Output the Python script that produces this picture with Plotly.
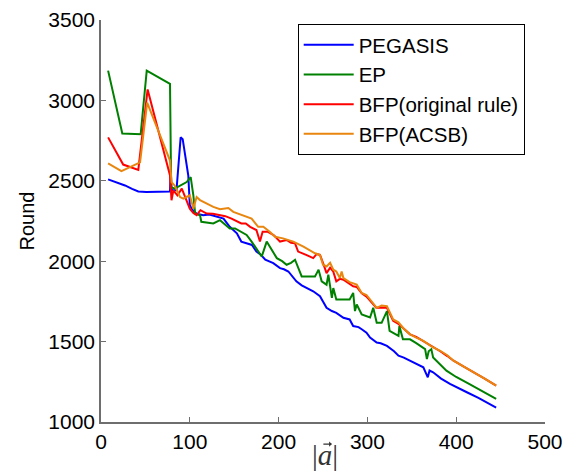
import plotly.graph_objects as go

# PEGASIS (blue)
peg_x = [8, 15, 27, 35, 42, 51, 60, 70, 77.7, 78.5, 79.5, 85, 89.7, 92, 98.3, 100, 104, 107.7, 115, 122, 130, 138,
         145, 153, 158, 165, 170, 175, 180, 185, 190, 194, 201.6, 206, 211, 216, 220, 226, 231.6, 239, 246.6, 254,
         260, 265, 273, 280, 284, 290, 293.6, 299, 303, 310.5, 315, 322, 330, 335, 341, 348, 355, 363, 368, 370,
         374, 383, 393, 402, 412, 425, 435, 445]
peg_y = [2509, 2495, 2471, 2450, 2434, 2430, 2430, 2432, 2434, 2574, 2441, 2441, 2770, 2759, 2533, 2348, 2310, 2296,
         2286, 2290, 2276, 2265, 2214, 2173, 2122, 2110, 2101, 2060, 2040, 2009, 1995, 1988, 1957, 1950, 1936, 1900,
         1875, 1850, 1833, 1813, 1782, 1710, 1690, 1679, 1648, 1638, 1597, 1590, 1577, 1556, 1525, 1494, 1490, 1473,
         1440, 1412, 1400, 1381, 1360, 1340, 1278, 1320, 1309, 1270, 1237, 1210, 1185, 1150, 1120, 1090]

# EP (green)
ep_x = [8, 24, 44.7, 51.5, 77.7, 79, 83, 90, 96.5, 101, 104, 106, 111.5, 113, 120, 126.5, 134, 140, 145, 151, 158,
        164, 169.6, 175, 181, 186.6, 190, 198, 204, 209, 214, 218.5, 226, 233, 241, 243, 245, 248.5, 254, 256, 260,
        261.6, 265, 272, 280, 284, 286, 288, 293.6, 303, 306.6, 310.5, 316, 322, 325, 335, 336, 340, 348, 355, 365,
        367, 369, 372, 374, 389, 400, 415, 430, 445]
ep_y = [3185, 2794, 2790, 3185, 3103, 2461, 2451, 2470, 2492, 2523, 2410, 2296, 2286, 2245, 2240, 2235, 2255, 2230,
        2204, 2204, 2180, 2163, 2122, 2080, 2029, 2122, 2091, 2019, 2000, 1978, 1990, 2009, 1905, 1905, 1905, 1926,
        1947, 1875, 1854, 1916, 1772, 1833, 1762, 1762, 1762, 1803, 1690, 1731, 1669, 1650, 1710, 1617, 1617, 1690,
        1566, 1535, 1597, 1514, 1514, 1490, 1453, 1391, 1440, 1453, 1401, 1319, 1280, 1235, 1190, 1144]

# BFP(original rule) (red)
bo_x = [8, 25, 42, 52.5, 77.7, 79.4, 81.5, 86, 91, 100, 104, 107.7, 112, 119, 126, 134, 140, 147, 152, 158, 163,
        168, 175, 179, 182, 188, 195, 201.6, 209, 214, 218.5, 222, 231, 239, 243, 246.6, 250, 254, 258, 261.6, 265,
        269, 273, 280, 284, 288, 293.6, 299, 303, 310, 316, 322, 329, 335, 341, 348, 355, 363, 370, 375, 382, 390,
        397, 410, 420, 432, 445]
bo_y = [2770, 2601, 2568, 3068, 2533, 2379, 2441, 2410, 2451, 2327, 2300, 2286, 2317, 2296, 2295, 2286, 2280, 2265,
        2250, 2235, 2235, 2214, 2194, 2122, 2183, 2183, 2160, 2122, 2132, 2115, 2111, 2060, 2039, 2019, 2045, 2039,
        1990, 1926, 1960, 1935, 1875, 1890, 1885, 1860, 1844, 1840, 1800, 1780, 1755, 1710, 1712, 1710, 1630, 1610,
        1580, 1545, 1530, 1504, 1480, 1460, 1440, 1410, 1381, 1340, 1310, 1270, 1226]

# BFP(ACSB) (orange)
ba_x = [8, 23, 44, 52, 77.7, 79.4, 83, 89, 92.7, 100, 104, 107.7, 111.5, 118, 126.5, 134, 143.4, 149, 158.4, 164,
        169.6, 177, 182.8, 190, 196, 205, 216.6, 228, 241, 246.6, 250, 254, 258, 261.6, 265, 269, 271, 273, 280, 288,
        293.6, 299, 303, 310.5, 316, 322, 329, 335, 341, 348, 355, 363, 372, 382, 390, 397, 410, 420, 432, 445]
ba_y = [2609, 2560, 2615, 2986, 2626, 2492, 2471, 2399, 2389, 2410, 2327, 2399, 2380, 2360, 2338, 2323, 2331, 2307,
        2286, 2276, 2265, 2214, 2214, 2183, 2152, 2142, 2122, 2091, 2049, 2039, 1978, 1967, 1990, 1947, 1936, 1895,
        1936, 1895, 1870, 1854, 1802, 1790, 1762, 1710, 1725, 1720, 1638, 1620, 1580, 1545, 1525, 1504, 1470, 1443,
        1415, 1381, 1340, 1310, 1270, 1226]

series = [
    ("PEGASIS", peg_x, peg_y, "#0000ff"),
    ("EP", ep_x, ep_y, "#008000"),
    ("BFP(original rule)", bo_x, bo_y, "#ff0000"),
    ("BFP(ACSB)", ba_x, ba_y, "#e8860f"),
]

x_ticks = [0, 100, 200, 300, 400, 500]
y_ticks = [1000, 1500, 2000, 2500, 3000, 3500]

fig = go.Figure()
for name, xs, ys, col in series:
    fig.add_trace(go.Scatter(x=xs, y=ys, mode="lines", name=name,
                             line=dict(color=col, width=2)))

FONT = "Liberation Sans, Arial"
axis_common = dict(showline=True, linecolor="#6e6e6e", linewidth=1.5, ticks="inside",
                   tickcolor="#6e6e6e", ticklen=5, showgrid=False, zeroline=False, automargin=False,
                   ticklabeloverflow="allow",
                   tickfont=dict(family=FONT, size=21, color="black"))

# the page body adds an 8px offset, so the figure is 8px smaller than the window
fig.update_layout(
    width=567, height=466,
    margin=dict(l=93, r=30, t=12, b=52),
    plot_bgcolor="white", paper_bgcolor="white",
    xaxis=dict(range=[0, 500], tickvals=x_ticks, **axis_common),
    yaxis=dict(range=[1000, 3500], tickvals=y_ticks,
               title=dict(text="Round", font=dict(family=FONT, size=20, color="black"),
                          standoff=8),
               **axis_common),
    legend=dict(x=0.443, y=0.99, xanchor="left", yanchor="top",
                bgcolor="white", bordercolor="black", borderwidth=1,
                font=dict(family=FONT, size=20.5, color="black"),
                itemwidth=50, tracegroupgap=0),
    showlegend=True,
)

# x-axis title: |a| with a vector arrow above the a
fig.add_annotation(text="|<i>a</i>|", xref="paper", yref="paper", x=0.505, y=-0.083,
                   xanchor="center", yanchor="middle", showarrow=False,
                   font=dict(family="Liberation Serif, Times New Roman", size=29, color="#333333"))
fig.add_annotation(text="", xref="paper", yref="paper", x=0.52, y=-0.055,
                   ax=-10, ay=0, showarrow=True, arrowhead=1, arrowsize=0.7, arrowwidth=1.3,
                   arrowcolor="#333333")

fig.write_html("out.html")
